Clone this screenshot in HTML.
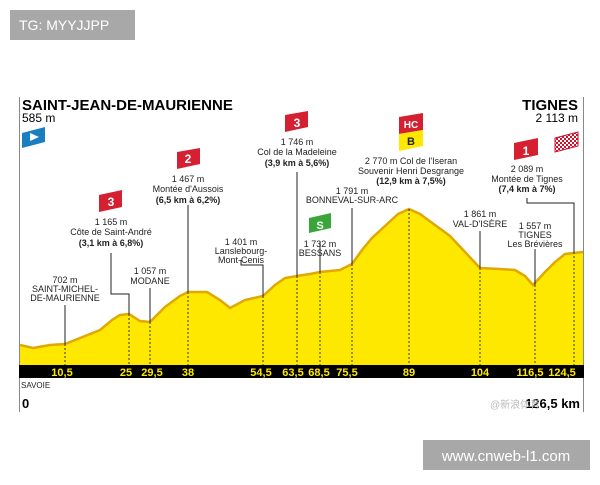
<!DOCTYPE html>
<html><head><meta charset="utf-8"><style>
body{margin:0;background:#fff;width:600px;height:480px;overflow:hidden}
svg text{font-family:"Liberation Sans",sans-serif}
</style></head><body>
<svg width="600" height="480" xmlns="http://www.w3.org/2000/svg">
<defs><pattern id="chk" width="4" height="4" patternUnits="userSpaceOnUse"><rect width="4" height="4" fill="#d0102a"/><rect width="2" height="2" fill="#fff"/><rect x="2" y="2" width="2" height="2" fill="#fff"/></pattern></defs>
<rect x="10" y="10" width="125" height="30" fill="#a8a8a8"/>
<text x="19" y="30" font-size="14" fill="#fff">TG: MYYJJPP</text>
<line x1="19.5" y1="97" x2="19.5" y2="412" stroke="#888"/>
<line x1="583.5" y1="97" x2="583.5" y2="412" stroke="#888"/>
<polygon fill="#ffe800" points="20,365 20,345 33,348 50,345 65,344 85,336 100,330 112,320 120,315 129,314 140,321 150,322 165,307 180,296 188,292 207,292 220,300 230,308 245,300 263,296 275,285 285,278 297,276 310,274 320,272 340,270 352,264 362,250 372,238 385,226 398,214 409,209 420,214 435,225 450,236 465,252 480,268 500,269 515,270 525,276 533,285 545,272 555,262 565,254 583,252 583,365"/>
<polyline fill="none" stroke="#e0a800" stroke-width="2.5" points="20,345 33,348 50,345 65,344 85,336 100,330 112,320 120,315 129,314 140,321 150,322 165,307 180,296 188,292 207,292 220,300 230,308 245,300 263,296 275,285 285,278 297,276 310,274 320,272 340,270 352,264 362,250 372,238 385,226 398,214 409,209 420,214 435,225 450,236 465,252 480,268 500,269 515,270 525,276 533,285 545,272 555,262 565,254 583,252"/>
<g stroke="#333" stroke-width="1" stroke-dasharray="2,2">
<line x1="65" y1="344" x2="65" y2="365"/><line x1="129" y1="314" x2="129" y2="365"/><line x1="150" y1="322" x2="150" y2="365"/><line x1="188" y1="292" x2="188" y2="365"/><line x1="263" y1="296" x2="263" y2="365"/><line x1="297" y1="276" x2="297" y2="365"/><line x1="320" y1="272" x2="320" y2="365"/><line x1="352" y1="264" x2="352" y2="365"/><line x1="409" y1="209" x2="409" y2="365"/><line x1="480" y1="268" x2="480" y2="365"/><line x1="535" y1="285" x2="535" y2="365"/><line x1="574" y1="252" x2="574" y2="365"/>
</g>
<g stroke="#222" stroke-width="1" fill="none">
<line x1="65" y1="305" x2="65" y2="344"/><polyline points="111,253 111,294 129,294 129,314"/><line x1="150" y1="288" x2="150" y2="322"/><line x1="188" y1="205" x2="188" y2="292"/><polyline points="241,260 241,265 263,265 263,296"/><line x1="297" y1="172" x2="297" y2="276"/><line x1="320" y1="241" x2="320" y2="272"/><line x1="352" y1="208" x2="352" y2="264"/><line x1="480" y1="231" x2="480" y2="268"/><line x1="535" y1="249" x2="535" y2="285"/><polyline points="527,198 527,203 574,203 574,252"/>
</g>
<rect x="19" y="365" width="565" height="13" fill="#000"/>
<g font-size="11" font-weight="bold" fill="#ffe800" text-anchor="middle">
<text x="62" y="376">10,5</text><text x="126" y="376">25</text><text x="152" y="376">29,5</text><text x="188" y="376">38</text><text x="261" y="376">54,5</text><text x="293" y="376">63,5</text><text x="319" y="376">68,5</text><text x="347" y="376">75,5</text><text x="409" y="376">89</text><text x="480" y="376">104</text><text x="530" y="376">116,5</text><text x="562" y="376">124,5</text>
</g>
<text x="21" y="388" font-size="8" fill="#222">SAVOIE</text>
<text x="22" y="408" font-size="13" font-weight="bold">0</text>
<text x="580" y="408" font-size="13" font-weight="bold" text-anchor="end">126,5 km</text>
<text x="22" y="110" font-size="15" font-weight="bold">SAINT-JEAN-DE-MAURIENNE</text>
<text x="22" y="122" font-size="12">585 m</text>
<polygon points="22,133 45,127 45,142 22,148" fill="#1a7fc0"/><polygon points="30,133 39,137 30,141" fill="#fff"/>
<text x="578" y="110" font-size="15" font-weight="bold" text-anchor="end">TIGNES</text>
<text x="578" y="122" font-size="12" text-anchor="end">2 113 m</text>
<polygon points="555,138 578,132 578,146 555,152" fill="url(#chk)" stroke="#d0102a"/>
<g font-size="9" fill="#222" text-anchor="middle">
<polygon points="99,195 122,190 122,207 99,212" fill="#d42030"/><text x="111" y="206" fill="#fff" font-size="12" font-weight="bold">3</text>
<text x="111" y="225">1 165 m</text><text x="111" y="235">Côte de Saint-André</text><text x="111" y="246" font-weight="bold">(3,1 km à 6,8%)</text>
<polygon points="177,152 200,148 200,164 177,169" fill="#d42030"/><text x="188" y="163" fill="#fff" font-size="12" font-weight="bold">2</text>
<text x="188" y="182">1 467 m</text><text x="188" y="192">Montée d'Aussois</text><text x="188" y="203" font-weight="bold">(6,5 km à 6,2%)</text>
<polygon points="285,115 308,111 308,127 285,132" fill="#d42030"/><text x="297" y="127" fill="#fff" font-size="12" font-weight="bold">3</text>
<text x="297" y="145">1 746 m</text><text x="297" y="155">Col de la Madeleine</text><text x="297" y="166" font-weight="bold">(3,9 km à 5,6%)</text>
<text x="241" y="245">1 401 m</text><text x="241" y="254">Lanslebourg-</text><text x="241" y="263">Mont-Cenis</text>
<text x="65" y="283">702 m</text><text x="65" y="292">SAINT-MICHEL-</text><text x="65" y="301">DE-MAURIENNE</text>
<text x="150" y="274">1 057 m</text><text x="150" y="284">MODANE</text>
<polygon points="309,218 331,213 331,228 309,233" fill="#3aa53a"/><text x="320" y="229" fill="#fff" font-size="11" font-weight="bold">S</text>
<text x="320" y="247">1 732 m</text><text x="320" y="256">BESSANS</text>
<text x="352" y="194">1 791 m</text><text x="352" y="203">BONNEVAL-SUR-ARC</text>
<polygon points="399,117 423,113 423,130 399,134" fill="#d42030"/><text x="411" y="128" fill="#fff" font-size="10" font-weight="bold">HC</text>
<polygon points="399,134 423,130 423,146 399,151" fill="#ffe800"/><text x="411" y="145" font-size="11" font-weight="bold">B</text>
<text x="411" y="164">2 770 m Col de l'Iseran</text><text x="411" y="174">Souvenir Henri Desgrange</text><text x="411" y="184" font-weight="bold">(12,9 km à 7,5%)</text>
<text x="480" y="217">1 861 m</text><text x="480" y="227">VAL-D'ISÈRE</text>
<text x="535" y="229">1 557 m</text><text x="535" y="238">TIGNES</text><text x="535" y="247">Les Brévières</text>
<polygon points="514,143 538,138 538,155 514,160" fill="#d42030"/><text x="526" y="155" fill="#fff" font-size="12" font-weight="bold">1</text>
<text x="527" y="172">2 089 m</text><text x="527" y="182">Montée de Tignes</text><text x="527" y="192" font-weight="bold">(7,4 km à 7%)</text>
</g>
<text x="490" y="408" font-size="10" fill="#bbb">@新浪体育</text>
<rect x="423" y="440" width="167" height="30" fill="#a8a8a8"/>
<text x="506" y="461" font-size="15" fill="#fff" text-anchor="middle">www.cnweb-l1.com</text>
</svg>
</body></html>
